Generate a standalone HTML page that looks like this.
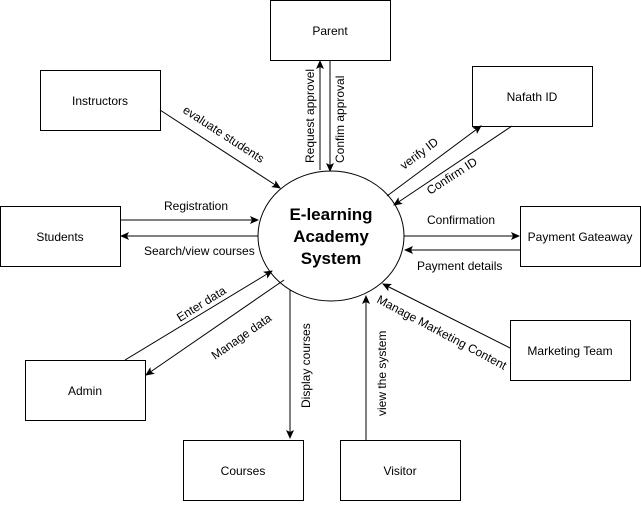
<!DOCTYPE html>
<html><head><style>body{margin:0;background:#fff}</style></head><body>
<svg width="641" height="501" xmlns="http://www.w3.org/2000/svg" font-family="Liberation Sans, sans-serif" font-size="11">
<defs><marker id="a" markerWidth="10" markerHeight="10" refX="8" refY="4" orient="auto" markerUnits="userSpaceOnUse"><path d="M0,0 L9,4 L0,8 L2,4 z" fill="#000"/></marker></defs>
<g fill="#fff" stroke="#000" stroke-width="1">
<rect x="270.5" y="0.5" width="120" height="60"/>
<rect x="40.5" y="70.5" width="120" height="60"/>
<rect x="472.5" y="66.5" width="120" height="60"/>
<rect x="0.5" y="206.5" width="120" height="60"/>
<rect x="520.5" y="206.5" width="120" height="60"/>
<rect x="510.5" y="320.5" width="120" height="60"/>
<rect x="25.5" y="360.5" width="120" height="60"/>
<rect x="183.5" y="440.5" width="120" height="60"/>
<rect x="340.5" y="440.5" width="120" height="60"/>
<ellipse cx="331" cy="236" rx="73" ry="65"/>
</g>
<g text-anchor="middle" font-size="12">
<text x="330" y="35">Parent</text>
<text x="100" y="105">Instructors</text>
<text x="532" y="101">Nafath ID</text>
<text x="60" y="241">Students</text>
<text x="580" y="241">Payment Gateaway</text>
<text x="570" y="355">Marketing Team</text>
<text x="85" y="395">Admin</text>
<text x="243" y="475">Courses</text>
<text x="400" y="475">Visitor</text>
</g>
<g text-anchor="middle" font-size="17" font-weight="bold">
<text x="331" y="220">E-learning</text>
<text x="331" y="242">Academy</text>
<text x="331" y="264">System</text>
</g>
<g stroke="#000" stroke-width="1" marker-end="url(#a)" fill="none">
<line x1="160" y1="110" x2="280" y2="188"/>
<line x1="320" y1="170" x2="320" y2="61"/>
<line x1="330" y1="61" x2="330" y2="171"/>
<line x1="387" y1="196" x2="481" y2="126"/>
<line x1="512" y1="126" x2="394" y2="205"/>
<line x1="120" y1="220" x2="258" y2="220"/>
<line x1="258" y1="236" x2="121" y2="236"/>
<line x1="404" y1="236" x2="519" y2="236"/>
<line x1="520" y1="250" x2="405" y2="250"/>
<line x1="510" y1="348" x2="383" y2="284"/>
<line x1="125" y1="360" x2="272" y2="271"/>
<line x1="284" y1="280" x2="146" y2="375"/>
<line x1="290" y1="290" x2="290" y2="438"/>
<line x1="366" y1="440" x2="366" y2="296"/>
</g>
<g font-size="12">
<text transform="translate(182,112) rotate(33)">evaluate students</text>
<text transform="translate(314,163) rotate(-90)">Request approvel</text>
<text transform="translate(344,163) rotate(-90)">Confim approval</text>
<text transform="translate(404,170) rotate(-37)">verify ID</text>
<text transform="translate(430,195) rotate(-33)">Confirm ID</text>
<text x="164" y="210">Registration</text>
<text x="144" y="255">Search/view courses</text>
<text x="427" y="224">Confirmation</text>
<text x="417" y="270">Payment details</text>
<text transform="translate(376,302) rotate(28)">Manage Marketing Content</text>
<text transform="translate(180,322) rotate(-32)">Enter data</text>
<text transform="translate(215,360) rotate(-35)">Manage data</text>
<text transform="translate(310,408) rotate(-90)">Display courses</text>
<text transform="translate(386,416) rotate(-90)">view the system</text>
</g>
</svg>
</body></html>
